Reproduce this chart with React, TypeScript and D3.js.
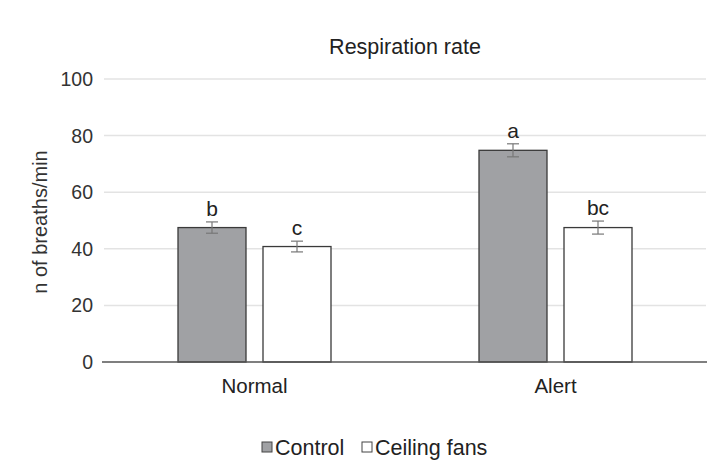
import React from "react";
import * as d3 from "d3";

const categories = ["Normal", "Alert"];
const series = ["Control", "Ceiling fans"];
const controlValues = [47.5, 74.8];
const fanValues = [40.8, 47.5];
const controlErr = [2.0, 2.3];
const fanErr = [1.9, 2.3];
const controlLetters = ["b", "a"];
const fanLetters = ["c", "bc"];
const yTicks = [0, 20, 40, 60, 80, 100];

const W = 708;
const H = 464;
const left = 104;
const right = 706;
const top = 79;
const bottom = 362;

export default function App() {
  const x = d3.scaleBand<string>().domain(categories).range([left, right]).paddingInner(0).paddingOuter(0);
  const y = d3.scaleLinear().domain([0, 100]).range([bottom, top]);
  const barW = 68;
  const gap = 17;
  const font = "'Liberation Sans', Arial, Helvetica, sans-serif";
  const fills = ["#a0a1a4", "#ffffff"];
  const valuesArr = [controlValues, fanValues];
  const errArr = [controlErr, fanErr];
  const letterArr = [controlLetters, fanLetters];

  return (
    <svg width={W} height={H} style={{ position: "absolute", left: 0, top: 0, background: "#fff" }} fontFamily={font}>
      <rect x={0} y={0} width={W} height={H} fill="#fff" />
      <text x={405} y={54} textAnchor="middle" fontSize={21.5} fill="#222">Respiration rate</text>
      {yTicks.map((t) => (
        <g key={t}>
          {t !== 0 && (
            <line x1={left} x2={right} y1={y(t)} y2={y(t)} stroke="#e3e3e3" strokeWidth={1.5} />
          )}
          <text x={93} y={y(t) + 7} textAnchor="end" fontSize={19.5} fill="#333">{t}</text>
        </g>
      ))}
      <text transform={`translate(47, ${222}) rotate(-90)`} textAnchor="middle" fontSize={20} fill="#333">n of breaths/min</text>
      {categories.map((c, i) => {
        const cx = (x(c) as number) + x.bandwidth() / 2;
        return (
          <g key={c}>
            {series.map((s, j) => {
              const bx = j === 0 ? cx - gap / 2 - barW : cx + gap / 2;
              const v = valuesArr[j][i];
              const e = errArr[j][i];
              const mx = bx + barW / 2;
              return (
                <g key={s}>
                  <rect x={bx} y={y(v)} width={barW} height={bottom - y(v)} fill={fills[j]} stroke="#3a3a3a" strokeWidth={1.3} />
                  <line x1={mx} x2={mx} y1={y(v + e)} y2={y(v - e)} stroke="#777" strokeWidth={1.2} />
                  <line x1={mx - 6} x2={mx + 6} y1={y(v + e)} y2={y(v + e)} stroke="#777" strokeWidth={1.2} />
                  <line x1={mx - 6} x2={mx + 6} y1={y(v - e)} y2={y(v - e)} stroke="#777" strokeWidth={1.2} />
                  <text x={mx} y={y(v + e) - 6} textAnchor="middle" fontSize={21} fill="#222">{letterArr[j][i]}</text>
                </g>
              );
            })}
            <text x={cx} y={393} textAnchor="middle" fontSize={20.5} fill="#222">{c}</text>
          </g>
        );
      })}
      <line x1={102} x2={right + 1} y1={bottom} y2={bottom} stroke="#555" strokeWidth={1.3} />
      <g>
        <rect x={262} y={442} width={10} height={10} fill={fills[0]} stroke="#444" strokeWidth={1} />
        <text x={275} y={455} fontSize={21.5} fill="#222">{series[0]}</text>
        <rect x={362} y={442} width={10} height={10} fill={fills[1]} stroke="#444" strokeWidth={1} />
        <text x={375} y={455} fontSize={21.5} fill="#222">{series[1]}</text>
      </g>
    </svg>
  );
}
